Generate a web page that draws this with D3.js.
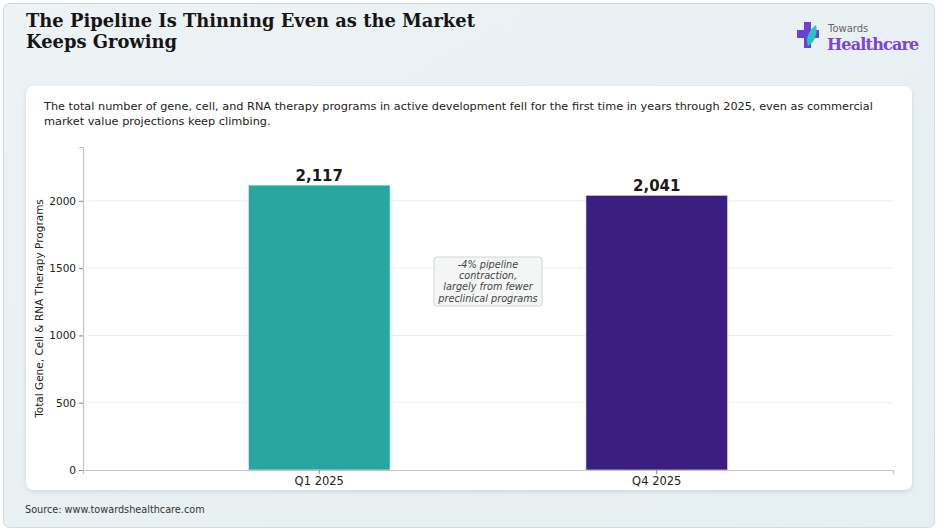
<!DOCTYPE html>
<html>
<head>
<meta charset="utf-8">
<script src="https://cdn.jsdelivr.net/npm/d3@7"></script>
<style>
  html, body { margin: 0; padding: 0; background: #ffffff; }
  svg { display: block; font-family: "DejaVu Sans", sans-serif; }
</style>
</head>
<body>
<script>
// data
const categories = ["Q1 2025", "Q4 2025"];
const programs = [2117, 2041];
const barColors = ["#2aa6a0", "#3b1f80"];
const yTicks = [0, 500, 1000, 1500, 2000];
const noteLines = ["-4% pipeline", "contraction,", "largely from fewer", "preclinical programs"];

const W = 938, H = 531;
const plot = { left: 83, right: 893, top: 147, bottom: 470 };

const svg = d3.select("body").append("svg")
    .attr("width", W)
    .attr("height", H);

const defs = svg.append("defs");
const bg = defs.append("linearGradient").attr("id", "bgGrad")
    .attr("x1", 0).attr("y1", 0).attr("x2", 1).attr("y2", 1);
bg.append("stop").attr("offset", "0%").attr("stop-color", "#edf2f5");
bg.append("stop").attr("offset", "100%").attr("stop-color", "#e6eff1");

const shadow = defs.append("filter").attr("id", "cardShadow")
    .attr("x", "-5%").attr("y", "-5%").attr("width", "110%").attr("height", "115%");
shadow.append("feDropShadow").attr("dx", 0).attr("dy", 1.5)
    .attr("stdDeviation", 2).attr("flood-color", "#90a4ab").attr("flood-opacity", 0.35);

//**** outer panel */
svg.append("rect")
    .attr("x", 3.5).attr("y", 3.5)
    .attr("width", W - 7).attr("height", H - 7)
    .attr("rx", 6)
    .attr("fill", "url(#bgGrad)")
    .attr("stroke", "#cfdcdf");

//**** title */
const title = svg.append("text")
    .attr("x", 26).attr("y", 27)
    .style("font-family", "'DejaVu Serif', serif")
    .style("font-weight", "bold")
    .style("font-size", "17.9px")
    .attr("fill", "#151515");
title.append("tspan").attr("x", 26).attr("dy", 0).text("The Pipeline Is Thinning Even as the Market");
title.append("tspan").attr("x", 26).attr("dy", 21).text("Keeps Growing");

//**** logo */
const logo = svg.append("g").attr("class", "logo_g").attr("transform", "translate(797,22)");
logo.append("path")
    .attr("d", "M7,0 H14 V8 H22 V16 H14 V26 H7 V16 H0 V8 H7 Z")
    .attr("fill", "#6b3fd8");
logo.append("path")
    .attr("d", "M19,3 C12,8 8,16 11,24 C17,21 21,12 19,3 Z")
    .attr("fill", "#25c6b8");
logo.append("text")
    .attr("x", 31).attr("y", 10)
    .style("font-size", "10px")
    .attr("fill", "#666")
    .text("Towards");
logo.append("text")
    .attr("x", 30).attr("y", 28)
    .style("font-family", "'DejaVu Serif', serif")
    .style("font-weight", "bold")
    .style("font-size", "16px")
    .attr("fill", "#7a44de")
    .style("letter-spacing", "-0.8px")
    .text("Healthcare");

//**** card */
svg.append("rect")
    .attr("x", 26).attr("y", 86)
    .attr("width", 886).attr("height", 404)
    .attr("rx", 7)
    .attr("fill", "#ffffff")
    .attr("filter", "url(#cardShadow)");

const sub = svg.append("text")
    .attr("x", 44).attr("y", 110)
    .style("font-size", "11.3px")
    .attr("fill", "#222");
sub.append("tspan").attr("x", 44).attr("dy", 0)
    .text("The total number of gene, cell, and RNA therapy programs in active development fell for the first time in years through 2025, even as commercial");
sub.append("tspan").attr("x", 44).attr("dy", 15)
    .text("market value projections keep climbing.");

//******** scales */
const x = d3.scaleBand()
    .domain(categories)
    .range([plot.left, plot.right])
    .paddingInner(0.58)
    .paddingOuter(0.49);

const y = d3.scaleLinear()
    .domain([0, 2400])
    .range([plot.bottom, plot.top]);

const chart_g = svg.append("g").attr("class", "chart_g");

//******* GRID */
chart_g.append("g").attr("class", "grid")
    .selectAll("line")
    .data(yTicks.filter(d => d > 0))
    .join("line")
    .attr("x1", plot.left + 6).attr("x2", plot.right)
    .attr("y1", d => y(d)).attr("y2", d => y(d))
    .attr("stroke", "#ececec")
    .attr("stroke-width", 1);

//******* BARS */
const bars_g = chart_g.append("g").attr("class", "bars_g");
bars_g.selectAll("rect")
    .data(categories)
    .join("rect")
    .attr("x", d => x(d))
    .attr("y", (d, i) => y(programs[i]))
    .attr("width", x.bandwidth())
    .attr("height", (d, i) => y(0) - y(programs[i]))
    .attr("fill", (d, i) => barColors[i])
    .attr("stroke", "#ffffff")
    .attr("stroke-opacity", 0.6)
    .attr("stroke-width", 1);

bars_g.selectAll("text")
    .data(categories)
    .join("text")
    .attr("x", d => x(d) + x.bandwidth() / 2)
    .attr("y", (d, i) => y(programs[i]) - 4)
    .attr("text-anchor", "middle")
    .style("font-size", "15px")
    .style("font-weight", "bold")
    .attr("fill", "#1a1a1a")
    .text((d, i) => d3.format(",")(programs[i]));

//******** AXIS */
const yAxis = chart_g.append("g")
    .attr("transform", "translate(" + plot.left + ",0)")
    .call(d3.axisLeft(y).tickValues(yTicks).tickFormat(d3.format("d")).tickSize(4).tickPadding(3));
const xAxis = chart_g.append("g")
    .attr("transform", "translate(0," + plot.bottom + ")")
    .call(d3.axisBottom(x).tickSize(4).tickPadding(3));

[yAxis, xAxis].forEach(a => {
    a.select(".domain").attr("stroke", "#c4c4c4").attr("stroke-width", 1.2);
    a.selectAll(".tick line").attr("stroke", "#888");
    a.selectAll(".tick text").attr("fill", "#222")
        .style("font-family", "'DejaVu Sans', sans-serif");
});
yAxis.selectAll(".tick text").style("font-size", "10.5px");
xAxis.selectAll(".tick text").style("font-size", "11.5px");

chart_g.append("text")
    .attr("transform", "translate(43," + ((plot.top + plot.bottom) / 2) + ") rotate(-90)")
    .attr("text-anchor", "middle")
    .style("font-size", "10.5px")
    .attr("fill", "#222")
    .text("Total Gene, Cell & RNA Therapy Programs");

//******** ANNOTATION */
const noteX = (x(categories[0]) + x(categories[1]) + x.bandwidth()) / 2;
const note_g = chart_g.append("g").attr("class", "note_g");
note_g.append("rect")
    .attr("x", noteX - 54).attr("y", 257)
    .attr("width", 108).attr("height", 49)
    .attr("rx", 3)
    .attr("fill", "#f4f6f6")
    .attr("stroke", "#cfd6d6");
note_g.selectAll("text")
    .data(noteLines)
    .join("text")
    .attr("x", noteX)
    .attr("y", (d, i) => 268 + i * 11.2)
    .attr("text-anchor", "middle")
    .style("font-size", "9.7px")
    .style("font-style", "italic")
    .attr("fill", "#444")
    .text(d => d);

//******** SOURCE */
svg.append("text")
    .attr("x", 25).attr("y", 513)
    .style("font-size", "9.7px")
    .attr("fill", "#333")
    .text("Source: www.towardshealthcare.com");
</script>
</body>
</html>
